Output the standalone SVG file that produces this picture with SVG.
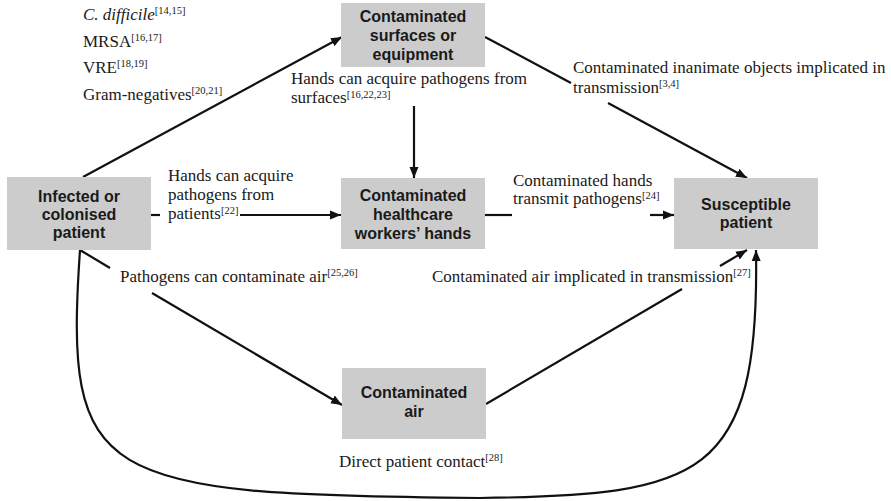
<svg xmlns="http://www.w3.org/2000/svg" width="891" height="501" viewBox="0 0 891 501">
<style>
.box{fill:#cccccc}
.bt{font-family:"Liberation Sans",Arial,sans-serif;font-weight:bold;font-size:16px;fill:#1a1a1a;text-anchor:middle}
.lt{font-family:"Liberation Serif","Times New Roman",serif;font-size:17px;fill:#1a1a1a}
.sup{font-size:10.5px}
.ln{fill:none;stroke:#111;stroke-width:2.2}
</style>
<defs>
<marker id="ah" markerUnits="userSpaceOnUse" markerWidth="12" markerHeight="10" refX="11" refY="5" orient="auto">
<path d="M0,0.5 L11,5 L0,9.5 z" fill="#111"/>
</marker>
</defs>
<rect width="891" height="501" fill="#ffffff"/>

<g id="connectors">
<path class="ln" d="M83,177 L342,37" marker-end="url(#ah)"/>
<path class="ln" d="M485,37 L571,83"/>
<path class="ln" d="M608,103 L747,178" marker-end="url(#ah)"/>
<path class="ln" d="M414,106 L414,178" marker-end="url(#ah)"/>
<path class="ln" d="M151,215 L160,215"/>
<path class="ln" d="M240,215 L341,215" marker-end="url(#ah)"/>
<path class="ln" d="M485,215 L512,215"/>
<path class="ln" d="M650,215 L674,215" marker-end="url(#ah)"/>
<path class="ln" d="M80,250 L110,268"/>
<path class="ln" d="M152,293 L342,405" marker-end="url(#ah)"/>
<path class="ln" d="M80,250 C64,482 95,495 480,498 C700,495 760,480 756,250" marker-end="url(#ah)"/>
<path class="ln" d="M486,404 L682,289"/>
<path class="ln" d="M720,266 L747,250" marker-end="url(#ah)"/>
</g>

<g id="node-infected">
<rect class="box" x="7" y="177" width="144" height="73"/>
<text class="bt" x="79" y="201.5">Infected or</text>
<text class="bt" x="79" y="219.5">colonised</text>
<text class="bt" x="79" y="237.5">patient</text>
</g>
<g id="node-surfaces">
<rect class="box" x="341" y="3" width="144" height="64"/>
<text class="bt" x="413" y="22">Contaminated</text>
<text class="bt" x="413" y="41">surfaces or</text>
<text class="bt" x="413" y="60">equipment</text>
</g>
<g id="node-hands">
<rect class="box" x="341" y="178" width="144" height="71"/>
<text class="bt" x="413" y="200.5">Contaminated</text>
<text class="bt" x="413" y="219.5">healthcare</text>
<text class="bt" x="413" y="238.5">workers’ hands</text>
</g>
<g id="node-susceptible">
<rect class="box" x="674" y="178" width="144" height="71"/>
<text class="bt" x="746" y="209.5">Susceptible</text>
<text class="bt" x="746" y="228">patient</text>
</g>
<g id="node-air">
<rect class="box" x="342" y="368" width="144" height="71"/>
<text class="bt" x="414" y="398">Contaminated</text>
<text class="bt" x="414" y="416.5">air</text>
</g>

<g id="labels">
<text class="lt" x="83" y="20"><tspan font-style="italic">C. difficile</tspan><tspan class="sup" dy="-6">[14,15]</tspan></text>
<text class="lt" x="83" y="46.5">MRSA<tspan class="sup" dy="-6">[16,17]</tspan></text>
<text class="lt" x="83" y="73">VRE<tspan class="sup" dy="-6">[18,19]</tspan></text>
<text class="lt" x="83" y="99.5">Gram-negatives<tspan class="sup" dy="-6">[20,21]</tspan></text>
<text class="lt" x="291" y="84">Hands can acquire pathogens from</text>
<text class="lt" x="291" y="102.5">surfaces<tspan class="sup" dy="-5">[16,22,23]</tspan></text>
<text class="lt" x="573" y="73">Contaminated inanimate objects implicated in</text>
<text class="lt" x="573" y="92.5">transmission<tspan class="sup" dy="-5.5">[3,4]</tspan></text>
<text class="lt" x="168" y="181">Hands can acquire</text>
<text class="lt" x="168" y="199.5">pathogens from</text>
<text class="lt" x="168" y="219">patients<tspan class="sup" dy="-5.5">[22]</tspan></text>
<text class="lt" x="513" y="186">Contaminated hands</text>
<text class="lt" x="513" y="204">transmit pathogens<tspan class="sup" dy="-5">[24]</tspan></text>
<text class="lt" x="120" y="281.5">Pathogens can contaminate air<tspan class="sup" dy="-6">[25,26]</tspan></text>
<text class="lt" x="432" y="281.5">Contaminated air implicated in transmission<tspan class="sup" dy="-6">[27]</tspan></text>
<text class="lt" x="339" y="466.5">Direct patient contact<tspan class="sup" dy="-6">[28]</tspan></text>
</g>
</svg>
